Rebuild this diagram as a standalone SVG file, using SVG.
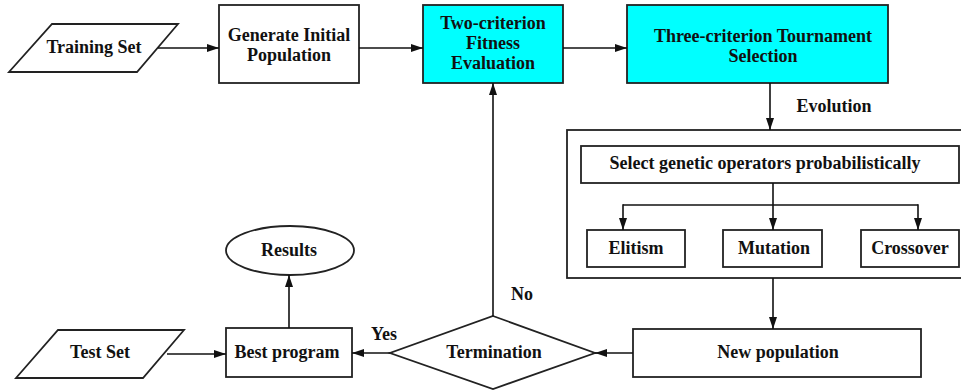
<svg xmlns="http://www.w3.org/2000/svg" width="961" height="392" viewBox="0 0 961 392">
  <style>
    .box { fill: #ffffff; stroke: #222222; stroke-width: 1.8; }
    .hl { fill: #00ffff; }
    .lbl { font-family: 'Liberation Serif', 'Times New Roman', 'DejaVu Serif', serif; font-weight: bold; font-size: 18px; fill: #111111; text-anchor: middle; }
    .edge { fill: none; stroke: #111111; stroke-width: 1.6; }
    .arrow { marker-end: url(#head); }
  </style>
  <defs>
    <marker id="head" viewBox="0 0 12 10" refX="12" refY="5" markerWidth="12" markerHeight="10" markerUnits="userSpaceOnUse" orient="auto">
      <path d="M0,1 L12,5 L0,9 Z" fill="#111111"/>
    </marker>
  </defs>

  <rect width="961" height="392" fill="#ffffff"/>

  <!-- evolution container (right edge runs off the page) -->
  <g id="evolution-block">
    <rect class="box" x="567" y="130" width="400" height="148"/>
  </g>

  <g id="training-set">
    <polygon class="box" points="52,24 178,24 137,72 9,72"/>
    <text class="lbl" x="94" y="53" font-family="Liberation Serif, serif">Training Set</text>
  </g>

  <g id="generate-initial">
    <rect class="box" x="219" y="5" width="140" height="78"/>
    <text class="lbl" x="289" y="41">Generate Initial</text>
    <text class="lbl" x="289" y="61">Population</text>
  </g>

  <g id="fitness-evaluation">
    <rect class="box hl" x="423" y="5" width="140" height="78"/>
    <text class="lbl" x="493" y="29">Two-criterion</text>
    <text class="lbl" x="493" y="49">Fitness</text>
    <text class="lbl" x="493" y="69">Evaluation</text>
  </g>

  <g id="tournament-selection">
    <rect class="box hl" x="627" y="5" width="261" height="78"/>
    <text class="lbl" x="763" y="42">Three-criterion Tournament</text>
    <text class="lbl" x="763" y="62">Selection</text>
  </g>

  <g id="select-operators">
    <rect class="box" x="581" y="146" width="378" height="37"/>
    <text class="lbl" x="765" y="169">Select genetic operators probabilistically</text>
  </g>

  <g id="elitism">
    <rect class="box" x="587" y="230" width="98" height="37"/>
    <text class="lbl" x="636" y="254">Elitism</text>
  </g>

  <g id="mutation">
    <rect class="box" x="723" y="230" width="99" height="37"/>
    <text class="lbl" x="774" y="254">Mutation</text>
  </g>

  <g id="crossover">
    <rect class="box" x="861" y="230" width="98" height="37"/>
    <text class="lbl" x="910" y="254">Crossover</text>
  </g>

  <g id="new-population">
    <rect class="box" x="633" y="329" width="288" height="48"/>
    <text class="lbl" x="778" y="358">New population</text>
  </g>

  <g id="termination">
    <polygon class="box" points="493,316 595,353 493,389 390,353"/>
    <text class="lbl" x="494" y="358">Termination</text>
  </g>

  <g id="best-program">
    <rect class="box" x="226" y="328" width="126" height="49"/>
    <text class="lbl" x="287" y="358">Best program</text>
  </g>

  <g id="results">
    <ellipse class="box" cx="290" cy="250.5" rx="64" ry="24.5"/>
    <text class="lbl" x="289" y="256">Results</text>
  </g>

  <g id="test-set">
    <polygon class="box" points="58,330 184,330 143,378 16,378"/>
    <text class="lbl" x="100" y="358">Test Set</text>
  </g>

  <!-- connectors -->
  <g id="connectors">
    <path class="edge arrow" d="M158,48 H219"/>
    <path class="edge arrow" d="M359,48 H423"/>
    <path class="edge arrow" d="M563,48 H627"/>
    <path class="edge arrow" d="M770,83 V130"/>
    <path class="edge" d="M773,183 V205"/>
    <path class="edge" d="M623,205 H918"/>
    <path class="edge arrow" d="M623,204.2 V230"/>
    <path class="edge arrow" d="M773,205 V230"/>
    <path class="edge arrow" d="M918,204.2 V230"/>
    <path class="edge arrow" d="M773,278 V329"/>
    <path class="edge arrow" d="M633,353 H595"/>
    <path class="edge arrow" d="M390,353 H352"/>
    <path class="edge arrow" d="M493,316 V83"/>
    <path class="edge arrow" d="M167,354 H226"/>
    <path class="edge arrow" d="M289,328 V275"/>
    <text class="lbl" x="834" y="112">Evolution</text>
    <text class="lbl" x="522" y="300">No</text>
    <text class="lbl" x="384" y="340">Yes</text>
  </g>
</svg>
